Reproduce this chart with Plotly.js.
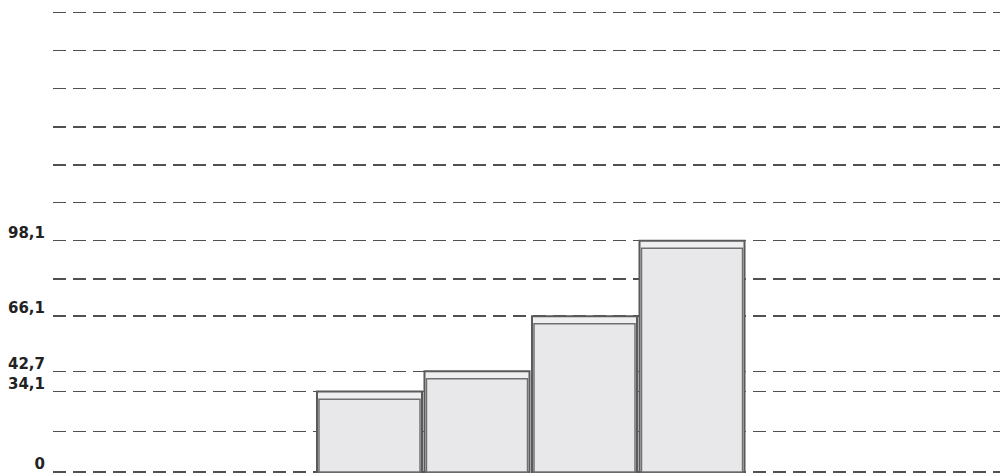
<!DOCTYPE html>
<html>
<head>
<meta charset="utf-8">
<script src="https://cdn.plot.ly/plotly-3.0.1.min.js"></script>
<style>html,body{margin:0;padding:0;background:#fff}#chart{width:1000px;height:474px}</style>
</head>
<body>
<div id="chart"></div>
<script>
// Data
const categories = ['A', 'B', 'C', 'D'];
const values = [34.1, 42.7, 66.1, 98.1];
const labelTickValues = [0, 34.1, 42.7, 66.1, 98.1];
const labelTickTexts = ['0', '34,1', '42,7', '66,1', '98,1'];
const gridOnlyValues = [17.1, 81.8, 114.2, 130.3, 146.4, 162.6, 178.7, 194.9];

// Derived
const xPos = categories.map((c, i) => i + 1);
const bandDepth = 3.2; // top band depth in value units (styling)
const allTicks = labelTickValues.concat(gridOnlyValues);
const allTexts = labelTickTexts.concat(gridOnlyValues.map(() => ''));

const outer = {
  type: 'bar', x: xPos, y: values, width: 0.977,
  marker: {color: '#efeff1', line: {color: '#5a5a5a', width: 2}},
  hoverinfo: 'skip', showlegend: false
};
const inner = {
  type: 'bar', x: xPos, y: values.map(v => v - bandDepth), width: 0.94,
  marker: {color: '#e8e8ea', line: {color: '#707070', width: 1.5}},
  hoverinfo: 'skip', showlegend: false
};

const layout = {
  width: 1000, height: 474,
  margin: {l: 53, r: 0, t: 0, b: 0, pad: 0},
  paper_bgcolor: '#fff', plot_bgcolor: '#fff',
  barmode: 'overlay',
  showlegend: false,
  xaxis: {range: [-1.944, 6.865], showgrid: false, zeroline: false, showticklabels: false, ticks: '', showline: false, fixedrange: true},
  yaxis: {
    range: [-0.85, 200.2], tickmode: 'array', tickvals: allTicks, ticktext: allTexts,
    showgrid: true, gridcolor: '#505050', gridwidth: 1.4, griddash: '13px,7px',
    zeroline: false, showline: false, ticks: '',
    ticklabelshift: -8, ticklabelstandoff: 7,
    tickfont: {family: 'DejaVu Sans', size: 15, color: '#222', weight: 'bold'},
    fixedrange: true
  }
};

Plotly.newPlot('chart', [outer, inner], layout, {staticPlot: true, displayModeBar: false});
</script>
</body>
</html>
